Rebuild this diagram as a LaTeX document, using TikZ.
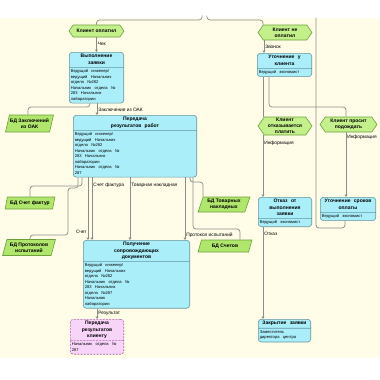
\documentclass[tikz,border=0pt]{standalone}
\usepackage{fontspec}
\setmainfont{Liberation Sans}
\usetikzlibrary{shapes.multipart,shapes.symbols,shapes.geometric,arrows.meta}

\definecolor{paper}{RGB}{255,253,232}
\definecolor{funcfill}{RGB}{170,238,250}
\definecolor{funcline}{RGB}{100,150,160}
\definecolor{evfill}{RGB}{196,240,140}
\definecolor{evline}{RGB}{110,160,60}
\definecolor{dbfill}{RGB}{176,230,108}
\definecolor{pinkfill}{RGB}{248,212,248}
\definecolor{pinkline}{RGB}{170,100,170}
\definecolor{wire}{RGB}{140,140,140}

\newcommand{\ttl}{\fontsize{5}{6}\selectfont\bfseries}
% title and role lines of a function box
\newcommand{\fttl}[1]{\noindent\fontsize{5}{6.1}\selectfont\bfseries\hfill\begin{tabular}{@{}c@{}}#1\end{tabular}\hfill\null}
\newcommand{\rl}[1]{\noindent\normalfont\fontsize{4.1}{5.5}\selectfont\begin{tabular}{@{}l@{}}#1\end{tabular}}

\tikzset{
  func/.style={rectangle split, rectangle split parts=2, draw=funcline, fill=funcfill,
    rounded corners=3pt, anchor=north west, inner xsep=1.5pt,
    inner ysep=1.1pt, line width=0.6pt},
  evt/.style={signal, signal to=west and east, signal pointer angle=110, draw=evline,
    fill=evfill, align=center, font=\ttl, inner sep=0.5pt, line width=0.6pt},
  dbase/.style={trapezium, trapezium left angle=70, trapezium right angle=110,
    trapezium stretches=true, draw=evline, fill=dbfill, align=center, font=\ttl,
    inner sep=0.5pt, line width=0.6pt},
  wireline/.style={draw=wire, line width=0.7pt, rounded corners=3pt},
  flow/.style={wireline, -{Triangle[open, length=2.5pt, width=3pt]}},
  lbl/.style={font=\fontsize{4.8}{5.5}\selectfont, inner sep=1pt},
}

\begin{document}
\begin{tikzpicture}[x=1pt, y=-1pt]
  \useasboundingbox (0,0) rectangle (380,380);
  \fill[white] (0,0) rectangle (380,380);
  \fill[paper] (0,18) rectangle (380,358);

  % events
  \node[evt, minimum width=55, minimum height=12] (ev1) at (96.5,31) {Клиент оплатил};
  \node[evt, minimum width=54, minimum height=15] (ev2) at (285,32.5) {Клиент не\\оплатил};
  \node[evt, minimum width=54, minimum height=18] (ev3) at (285,126) {Клиент\\отказывается\\платить};
  \node[evt, minimum width=57, minimum height=15] (ev4) at (348.5,124.5) {Клиент просит\\подождать};

  % data bases
  \node[dbase, minimum width=45, minimum height=17] (db1) at (29.5,123.5) {БД Заключений\\из ОАК};
  \node[dbase, minimum width=50, minimum height=12] (db2) at (30,203) {БД Счет фактур};
  \node[dbase, minimum width=53, minimum height=16] (db3) at (29,247.5) {БД Протоколов\\испытаний};
  \node[dbase, minimum width=52, minimum height=15] (db4) at (224,204.5) {БД Товарных\\накладных};
  \node[dbase, minimum width=54, minimum height=12] (db5) at (225,246) {БД Счетов};

  % functions
  \node[func, text width=51.4] (f1) at (69,52) {\fttl{Выполнение\\заявки}
    \nodepart{two}\rl{Ведущий инженер/\\ведущий Начальник\\отдела №282\\Начальник отдела №\\283 Начальник\\лаборатории}};
  \node[func, text width=120.4] (f2) at (73,115) {\fttl{Передача\\результатов работ}
    \nodepart{two}\rl{Ведущий инженер/\\ведущий Начальник\\отдела №282\\Начальник отдела №\\283 Начальник\\лаборатории\\Начальник отдела №\\287}};
  \node[func, text width=103.4] (f3) at (83,240) {\fttl{Получение\\сопровождающих\\документов}
    \nodepart{two}\rl{Ведущий инженер/\\ведущий Начальник\\отдела №282\\Начальник отдела №\\283 Начальник\\отдела №287\\Начальник\\лаборатории}};
  \node[func, text width=50.4, fill=pinkfill, draw=pinkline, dash pattern=on 2pt off 1.2pt] (f4) at (70,319) {\fttl{Передача\\результатов\\клиенту}
    \nodepart{two}\rl{Начальник отдела №\\287}};
  \node[func, text width=51.4] (f5) at (257,53) {\fttl{Уточнение у\\клиента}
    \nodepart{two}\rl{Ведущий экономист}};
  \node[func, text width=50.4] (f6) at (258,197) {\fttl{Отказ от\\выполнения\\заявки}
    \nodepart{two}\rl{Ведущий экономист}};
  \node[func, text width=52.4] (f7) at (320,197) {\fttl{Уточнение сроков\\оплаты}
    \nodepart{two}\rl{Ведущий экономист}};
  \node[func, text width=49.4] (f8) at (258,319) {\fttl{Закрытие заявки}
    \nodepart{two}\rl{Заместитель\\директора центра}};

  % connectors
  \draw[wireline] (ev1.north) |- (202,20) -- (202,17.5);
  \draw[wireline] (207,17.5) -- (207,20) -| (ev2.north -| 263,0);
  \draw[flow] (ev1.south) -- node[lbl, right, pos=0.45] {Чек} (f1.north);
  \draw[wireline] (f1.south -| 90,0) |- (28,107) -- (db1.north -| 28,0);
  \draw[flow] (f1.south -| 97,0) -- node[lbl, right, pos=0.55] {Заключение из ОАК} (f2.north -| 97,0);
  \draw[flow] (ev2.south -| 264,0) -- node[lbl, right, pos=0.55] {Звонок} (f5.north -| 264,0);
  \draw[wireline] (f5.south -| 263,0) -- (ev3.north -| 263,0);
  \draw[wireline] (f5.south -| 269,0) |- (346,107) -- (ev4.north -| 346,0);
  \draw[flow] (ev3.south -| 263,0) -- node[lbl, right, pos=0.13] {Информация} (f6.north -| 263,0);
  \draw[flow] (ev4.south -| 346,0) -- node[lbl, right, pos=0.08] {Информация} (f7.north -| 346,0);
  \draw[wireline] (f7.south -| 345,0) |- (316,228) -- (316,17.5);
  \draw[flow] (f6.south -| 263,0) -- node[lbl, right, pos=0.07] {Отказ} (f8.north -| 263,0);
  \draw[wireline] (f2.south -| 82,0) |- (30,186) -- (db2.north -| 30,0);
  \draw[wireline] (f2.south -| 78,0) |- (68,188) |- (30,235) -- (db3.north -| 30,0);
  \draw[flow] (f2.south -| 88,0) -- node[lbl, left, pos=0.87] {Счет} (f3.north -| 88,0);
  \draw[flow] (f2.south -| 92,0) -- node[lbl, right, pos=0.13] {Счет фактура} (f3.north -| 92,0);
  \draw[flow] (f2.south -| 130,0) -- node[lbl, right, pos=0.13] {Товарная накладная} (f3.north -| 130,0);
  \draw[flow] (f2.south -| 185,0) -- node[lbl, right, pos=0.92] {Протокол испытаний} (f3.north -| 185,0);
  \draw[wireline] (f2.south -| 193,0) |- (240,229) -- (db5.north -| 240,0);
  \draw[wireline] (f2.south -| 190,0) |- (203,182) -- (db4.north -| 203,0);
  \draw[flow] (f3.south -| 97,0) -- node[lbl, right, pos=0.45] {Результат} (f4.north -| 97,0);
\end{tikzpicture}
\end{document}
